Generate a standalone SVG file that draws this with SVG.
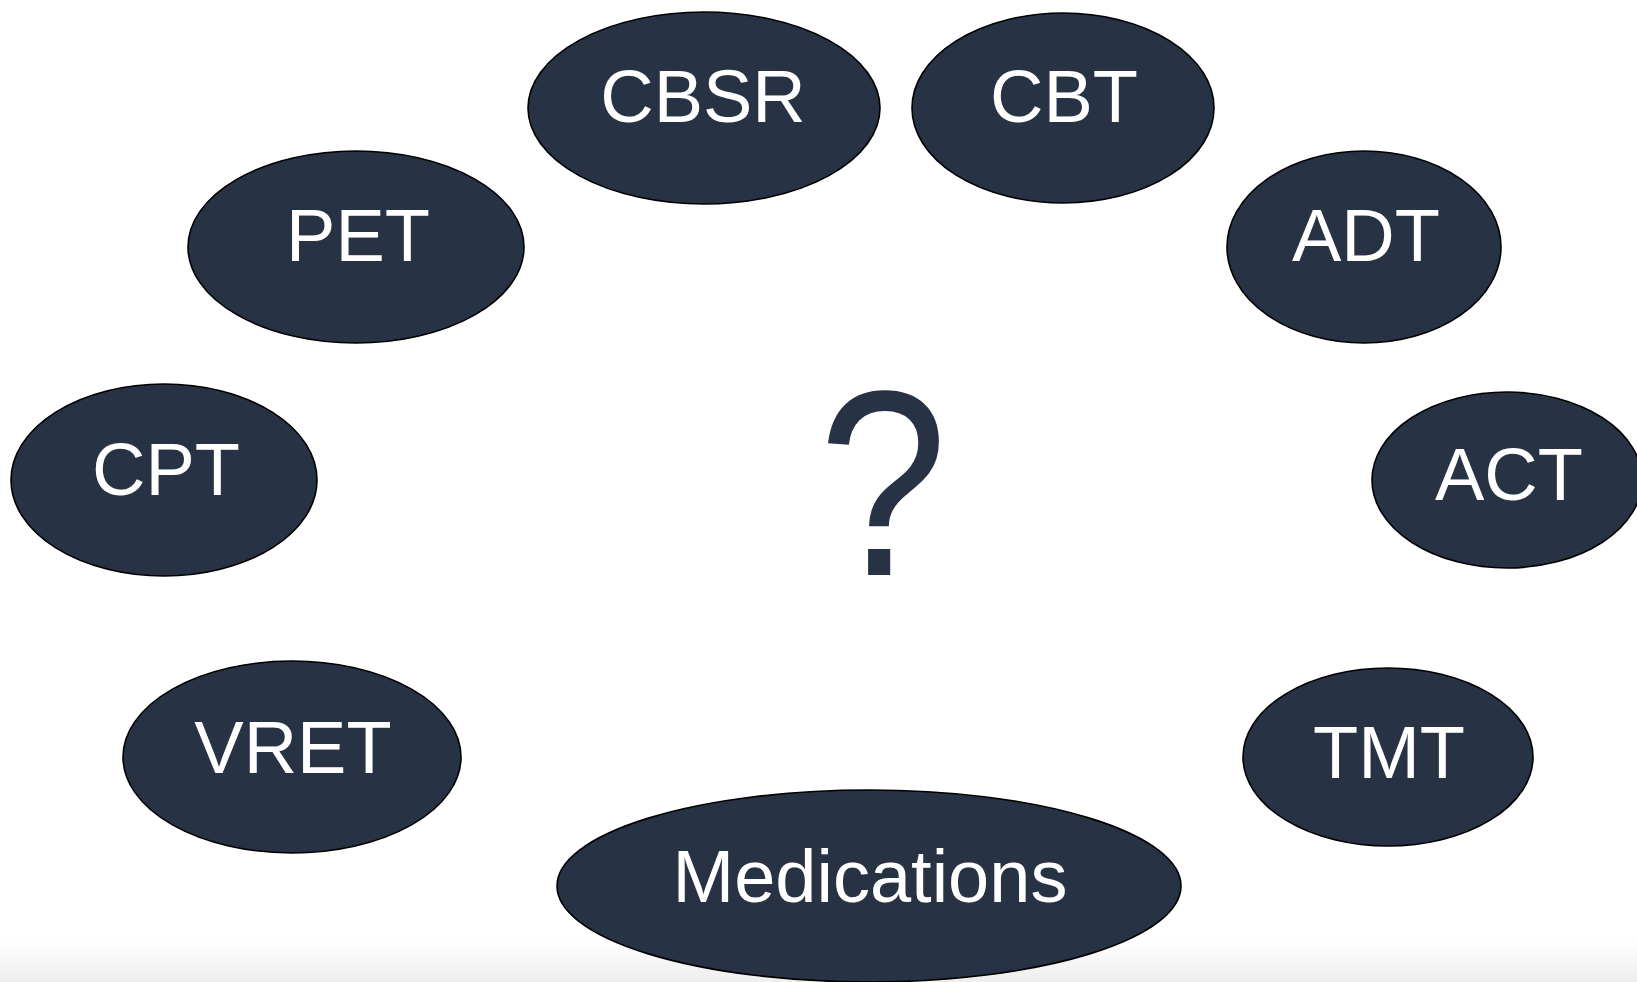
<svg xmlns="http://www.w3.org/2000/svg" width="1637" height="982" viewBox="0 0 1637 982">
<defs>
<linearGradient id="floor" x1="0" y1="0" x2="0" y2="1">
<stop offset="0" stop-color="#ffffff"/>
<stop offset="1" stop-color="#eeeeee"/>
</linearGradient>
</defs>
<style>
.node ellipse{fill:#283245;stroke:#000;stroke-width:1.6}
.node text{fill:#fff;font-family:"Liberation Sans",Arial,sans-serif;font-size:74px;text-anchor:middle}
.q{fill:#283245;font-family:"Liberation Sans",Arial,sans-serif;font-size:252px;text-anchor:middle}
</style>
<rect width="1637" height="982" fill="#fff"/>
<rect x="0" y="940" width="1637" height="42" fill="url(#floor)"/>
<g id="connectors"/>
<g id="node-cbsr" class="node"><ellipse cx="704" cy="108" rx="176" ry="96"/><text x="703" y="122">CBSR</text></g>
<g id="node-cbt" class="node"><ellipse cx="1063" cy="108" rx="151" ry="95"/><text x="1064" y="122">CBT</text></g>
<g id="node-pet" class="node"><ellipse cx="356" cy="247" rx="168" ry="96"/><text x="358" y="261">PET</text></g>
<g id="node-adt" class="node"><ellipse cx="1364" cy="247" rx="137" ry="96"/><text x="1366" y="261">ADT</text></g>
<g id="node-cpt" class="node"><ellipse cx="164" cy="480" rx="153" ry="96"/><text x="166" y="495">CPT</text></g>
<g id="node-act" class="node"><ellipse cx="1507" cy="480" rx="135" ry="88"/><text x="1509" y="500">ACT</text></g>
<g id="node-vret" class="node"><ellipse cx="292" cy="757" rx="169" ry="96"/><text x="293" y="773">VRET</text></g>
<g id="node-tmt" class="node"><ellipse cx="1388" cy="757" rx="145" ry="89"/><text x="1389" y="778">TMT</text></g>
<g id="node-medications" class="node"><ellipse cx="869" cy="886" rx="312" ry="96"/><text x="870" y="902">Medications</text></g>
<g id="center-question"><text class="q" transform="translate(883,575) scale(0.92,1.05)" x="0" y="0">?</text></g>
</svg>
